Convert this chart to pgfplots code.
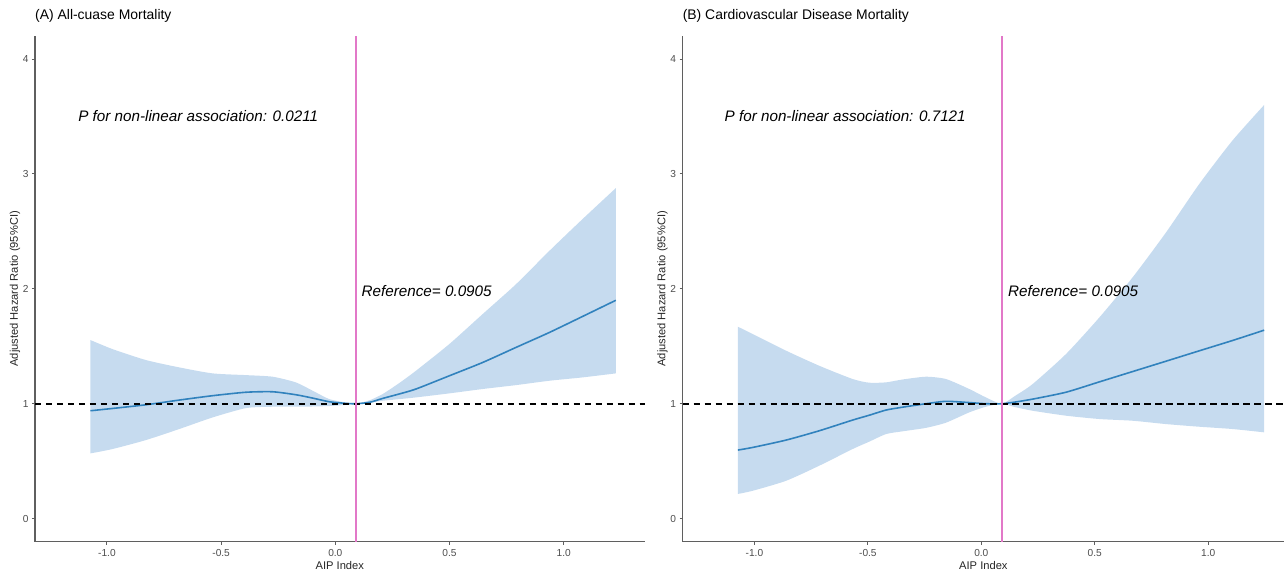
\documentclass[border=0pt]{standalone}
\usepackage{pgfplots}
\pgfplotsset{compat=1.18}
\usepackage{pgfplotstable}
\usepgfplotslibrary{fillbetween}
\usepackage{fontspec}
\setmainfont{Liberation Sans}
\definecolor{ribbon}{RGB}{198,219,239}
\definecolor{est}{RGB}{49,130,189}
\definecolor{refpink}{RGB}{226,120,200}
\definecolor{axisgrey}{RGB}{95,95,95}
\definecolor{ticklab}{RGB}{77,77,77}
\tikzset{ann/.style={font=\itshape\fontsize{15.3}{18}\selectfont}}

\pgfplotstableread{
x lo est hi
-1.072 0.568 0.939 1.554
-0.975 0.606 0.959 1.475
-0.829 0.684 0.991 1.380
-0.683 0.780 1.032 1.316
-0.537 0.881 1.070 1.264
-0.391 0.962 1.100 1.249
-0.274 0.974 1.104 1.235
-0.172 0.974 1.078 1.185
-0.099 0.976 1.049 1.113
-0.026 0.980 1.017 1.040
0.047 0.990 1.003 1.010
0.0905 1.000 1.000 1.000
0.150 1.010 1.012 1.030
0.207 1.026 1.046 1.084
0.280 1.040 1.085 1.180
0.353 1.055 1.128 1.287
0.499 1.090 1.243 1.519
0.645 1.128 1.359 1.780
0.791 1.162 1.490 2.040
0.937 1.200 1.620 2.330
1.082 1.229 1.759 2.606
1.228 1.264 1.900 2.876
}\dataA

\pgfplotstableread{
x lo est hi
-1.073 0.215 0.597 1.670
-1.007 0.243 0.620 1.606
-0.860 0.330 0.684 1.461
-0.714 0.461 0.765 1.330
-0.567 0.606 0.858 1.215
-0.494 0.670 0.900 1.183
-0.420 0.736 0.945 1.186
-0.347 0.760 0.970 1.211
-0.244 0.790 1.000 1.235
-0.156 0.835 1.021 1.215
-0.053 0.925 1.010 1.128
0.020 0.974 1.000 1.055
0.0905 1.000 1.000 1.000
0.150 0.970 1.015 1.070
0.226 0.939 1.040 1.171
0.373 0.896 1.100 1.432
0.520 0.867 1.190 1.750
0.667 0.852 1.280 2.100
0.814 0.823 1.370 2.490
0.960 0.800 1.460 2.910
1.107 0.780 1.550 3.290
1.247 0.751 1.640 3.600
}\dataB

\pgfplotsset{rcs/.style={
  scale only axis, height=506bp,
  ymin=-0.2, ymax=4.2,
  axis x line*=bottom, axis y line*=left,
  axis line style={axisgrey, line width=1.3bp, -},
  tick style={axisgrey, line width=0.9bp},
  tick align=outside, major tick length=3bp,
  xtick={-1,-0.5,0,0.5,1}, ytick={0,1,2,3,4},
  xticklabels={-1.0,-0.5,0.0,0.5,1.0},
  yticklabels={0,1,2,3,4},
  tick label style={font=\fontsize{10.2}{11}\selectfont, text=ticklab},
  xticklabel style={yshift=-1bp},
  xlabel={AIP Index},
  ylabel={Adjusted Hazard Ratio (95\%CI)},
  label style={font=\fontsize{11.2}{13}\selectfont, text=black!85},
  xlabel style={at={(axis description cs:0.5,0)}, anchor=center, yshift=-24bp},
  title style={at={(0,1)}, anchor=base west, yshift=11bp, inner sep=0pt, font=\fontsize{14}{16}\selectfont},
  clip=false,
}}

\begin{document}
\begin{tikzpicture}
% Panel A
\begin{axis}[rcs, at={(35bp,29bp)}, anchor=south west, width=610bp,
  xmin=-1.315, xmax=1.354,
  ylabel style={at={(axis description cs:-0.0328,0.5)}, anchor=center},
  title={(A) All-cuase Mortality}]
\addplot[draw=none, name path=upA, smooth, tension=0.4] table[x=x,y=hi] {\dataA};
\addplot[draw=none, name path=loA, smooth, tension=0.4] table[x=x,y=lo] {\dataA};
\addplot[ribbon, draw=none] fill between[of=upA and loA];
\addplot[est, line width=1.6bp, smooth, tension=0.4] table[x=x,y=est] {\dataA};
\addplot[black, line width=1.7bp, dash pattern=on 6.5bp off 4.5bp] coordinates {(-1.315,1) (1.354,1)};
\addplot[refpink, line width=1.5bp] coordinates {(0.0905,-0.2) (0.0905,4.2)};
\node[ann] at (axis cs:-0.6,3.5) {P for non-linear association: 0.0211};
\node[ann] at (axis cs:0.4,1.98) {Reference= 0.0905};
\end{axis}
% Panel B
\begin{axis}[rcs, at={(683bp,29bp)}, anchor=south west, width=602bp,
  xmin=-1.317, xmax=1.335,
  ylabel style={at={(axis description cs:-0.0332,0.5)}, anchor=center},
  title={(B) Cardiovascular Disease Mortality}]
\addplot[draw=none, name path=upB, smooth, tension=0.4] table[x=x,y=hi] {\dataB};
\addplot[draw=none, name path=loB, smooth, tension=0.4] table[x=x,y=lo] {\dataB};
\addplot[ribbon, draw=none] fill between[of=upB and loB];
\addplot[est, line width=1.6bp, smooth, tension=0.4] table[x=x,y=est] {\dataB};
\addplot[black, line width=1.7bp, dash pattern=on 6.5bp off 4.5bp] coordinates {(-1.317,1) (1.335,1)};
\addplot[refpink, line width=1.5bp] coordinates {(0.0905,-0.2) (0.0905,4.2)};
\node[ann] at (axis cs:-0.6,3.5) {P for non-linear association: 0.7121};
\node[ann] at (axis cs:0.405,1.98) {Reference= 0.0905};
\end{axis}
\path (0,0) rectangle (1285bp,571bp);
\end{tikzpicture}
\end{document}
